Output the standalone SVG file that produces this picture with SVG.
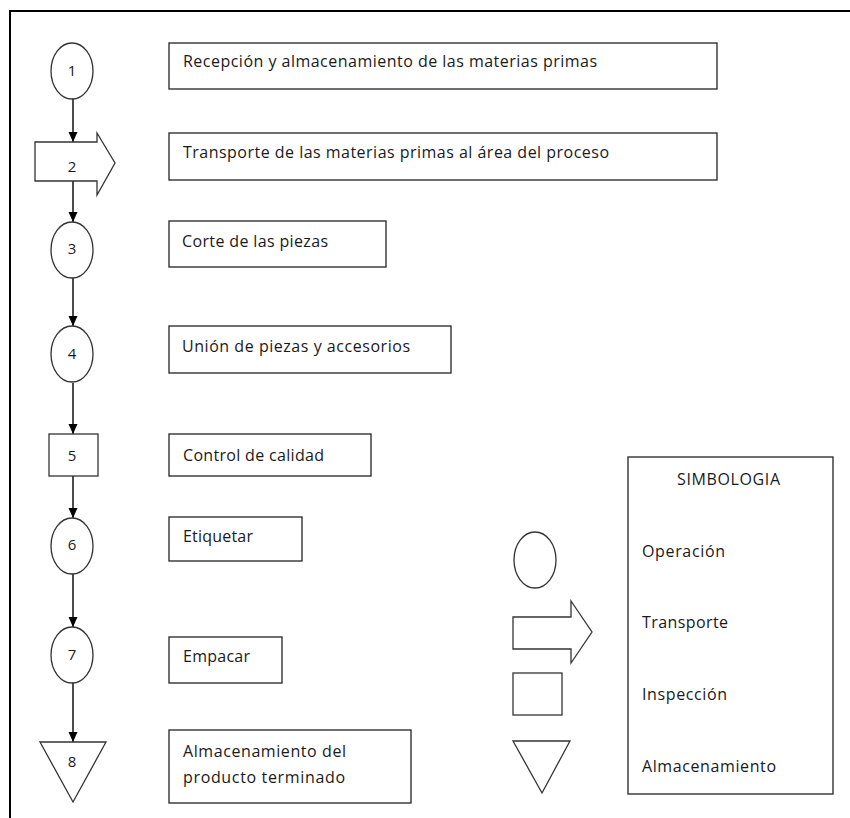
<svg xmlns="http://www.w3.org/2000/svg" width="850" height="818" viewBox="0 0 850 818">
<defs>
<style>
.frame{fill:none;stroke:#000;stroke-width:2}
.box{fill:#fff;stroke:#333;stroke-width:1.4}
.sym{fill:#fff;stroke:#333;stroke-width:1.3}
.conn{fill:none;stroke:#000;stroke-width:1.4;marker-end:url(#ah)}
.t{font-family:"Open Sans","Liberation Sans",sans-serif;font-size:16px;fill:#1a1a1a}
.n{font-family:"Open Sans","Liberation Sans",sans-serif;font-size:15px;fill:#1a1a1a;text-anchor:middle}
</style>
<marker id="ah" markerUnits="userSpaceOnUse" markerWidth="10" markerHeight="10" refX="10" refY="4.5" orient="auto">
<path d="M0,0 L10,4.5 L0,9 z" fill="#000"/>
</marker>
</defs>
<rect width="850" height="818" fill="#fff"/>
<rect class="frame" x="10" y="11" width="900" height="900"/>

<g id="connectors">
<line class="conn" x1="73" y1="99" x2="73" y2="142"/>
<line class="conn" x1="73" y1="181" x2="73" y2="222"/>
<line class="conn" x1="73" y1="278" x2="73" y2="326"/>
<line class="conn" x1="73" y1="383" x2="73" y2="434"/>
<line class="conn" x1="73" y1="476" x2="73" y2="518"/>
<line class="conn" x1="73" y1="574" x2="73" y2="627"/>
<line class="conn" x1="73" y1="683" x2="73" y2="742"/>
</g>

<g id="n1">
<ellipse class="sym" cx="72" cy="71" rx="21" ry="28"/>
<text class="n" x="72" y="76">1</text>
</g>
<g id="n2">
<path class="sym" d="M35,142 H97 V133 L115,163 L97,195 V181 H35 Z"/>
<text class="n" x="72" y="172">2</text>
</g>
<g id="n3">
<ellipse class="sym" cx="72" cy="250" rx="21" ry="28"/>
<text class="n" x="72" y="254">3</text>
</g>
<g id="n4">
<ellipse class="sym" cx="72" cy="354" rx="21" ry="28"/>
<text class="n" x="72" y="359">4</text>
</g>
<g id="n5">
<rect class="sym" x="49" y="434" width="49" height="42"/>
<text class="n" x="72" y="461">5</text>
</g>
<g id="n6">
<ellipse class="sym" cx="72" cy="546" rx="21" ry="28"/>
<text class="n" x="72" y="550">6</text>
</g>
<g id="n7">
<ellipse class="sym" cx="72" cy="655" rx="21" ry="28"/>
<text class="n" x="72" y="660">7</text>
</g>
<g id="n8">
<path class="sym" d="M40,742 H106 L73,802 Z"/>
<text class="n" x="72" y="767">8</text>
</g>

<g id="d1">
<rect class="box" x="169" y="43" width="548" height="46"/>
<text class="t" x="183" y="67" textLength="414">Recepción y almacenamiento de las materias primas</text>
</g>
<g id="d2">
<rect class="box" x="169" y="133" width="548" height="47"/>
<text class="t" x="183" y="158" textLength="426">Transporte de las materias primas al área del proceso</text>
</g>
<g id="d3">
<rect class="box" x="169" y="221" width="217" height="46"/>
<text class="t" x="182" y="247" textLength="146">Corte de las piezas</text>
</g>
<g id="d4">
<rect class="box" x="169" y="326" width="282" height="47"/>
<text class="t" x="182" y="352" textLength="228">Unión de piezas y accesorios</text>
</g>
<g id="d5">
<rect class="box" x="169" y="434" width="202" height="42"/>
<text class="t" x="183" y="461" textLength="141">Control de calidad</text>
</g>
<g id="d6">
<rect class="box" x="169" y="517" width="133" height="44"/>
<text class="t" x="183" y="542" textLength="70">Etiquetar</text>
</g>
<g id="d7">
<rect class="box" x="169" y="637" width="113" height="46"/>
<text class="t" x="183" y="662" textLength="67">Empacar</text>
</g>
<g id="d8">
<rect class="box" x="169" y="730" width="242" height="73"/>
<text class="t" x="183" y="757" textLength="163">Almacenamiento del</text>
<text class="t" x="183" y="783" textLength="162">producto terminado</text>
</g>

<g id="legend-symbols">
<ellipse class="sym" cx="535" cy="560" rx="21" ry="28"/>
<path class="sym" d="M513,617 H571 V601 L592,632 L571,663 V649 H513 Z"/>
<rect class="sym" x="513" y="673" width="49" height="42"/>
<path class="sym" d="M513,741 H570 L542,793 Z"/>
</g>
<g id="legend">
<rect class="box" x="628" y="457" width="205" height="337"/>
<text class="t" x="677" y="485" textLength="103">SIMBOLOGIA</text>
<text class="t" x="642" y="557" textLength="83">Operación</text>
<text class="t" x="642" y="628" textLength="86">Transporte</text>
<text class="t" x="642" y="700" textLength="85">Inspección</text>
<text class="t" x="642" y="772" textLength="134">Almacenamiento</text>
</g>
</svg>
